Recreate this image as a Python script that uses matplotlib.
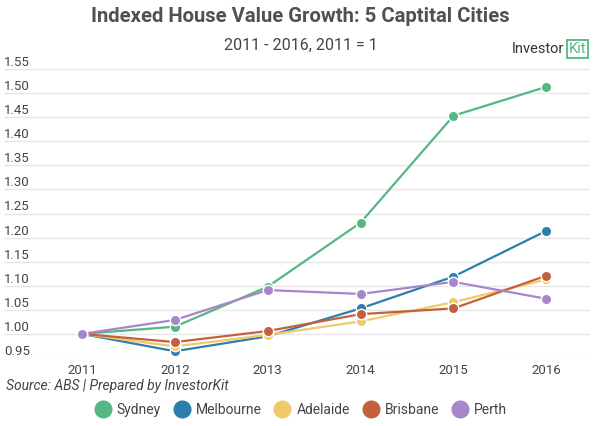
import matplotlib
matplotlib.use("Agg")
import matplotlib.pyplot as plt
from matplotlib.lines import Line2D
from matplotlib.transforms import blended_transform_factory

years = ["2011", "2012", "2013", "2014", "2015", "2016"]
sydney = [1.000, 1.015, 1.098, 1.231, 1.453, 1.513]
melbourne = [1.000, 0.964, 0.995, 1.053, 1.119, 1.214]
adelaide = [1.000, 0.974, 0.998, 1.026, 1.066, 1.113]
brisbane = [1.000, 0.983, 1.006, 1.041, 1.053, 1.121]
perth = [1.000, 1.029, 1.091, 1.083, 1.108, 1.073]

city_names = ["Sydney", "Melbourne", "Adelaide", "Brisbane", "Perth"]
city_colors = ["#55b783", "#2b7fad", "#f0ca6a", "#c2613d", "#a786cb"]
y_ticks = [0.95, 1.00, 1.05, 1.10, 1.15, 1.20, 1.25, 1.30, 1.35, 1.40, 1.45, 1.50, 1.55]

plt.rcParams["font.family"] = ["Roboto", "DejaVu Sans"]
text_col = "#444444"

fig = plt.figure(figsize=(6.01, 4.26), dpi=100)
ax = fig.add_axes([4 / 601, (426 - 358) / 426, 586 / 601, (358 - 69) / 426])

x = list(range(len(years)))
for vals, name, col in zip([sydney, melbourne, adelaide, brisbane, perth], city_names, city_colors):
    ax.plot(x, vals, color=col, lw=1.6, marker="o", ms=7.5,
            mfc=col, mec="white", mew=1.0, label=name, zorder=3)

ax.set_ylim(0.95, 1.55)
ax.set_xlim(-0.84, 5.47)
ax.set_yticks(y_ticks)
ax.set_yticklabels([])
ax.tick_params(axis="y", length=0)
ax.set_xticks(x)
ax.set_xticklabels(years, color=text_col, fontsize=9.5)
ax.tick_params(axis="x", length=0, pad=4)
ax.grid(axis="y", color="#e6e6e6", lw=1)
for s in ax.spines.values():
    s.set_visible(False)

# y labels sit above the gridlines, inside the plot
trans = blended_transform_factory(ax.transAxes, ax.transData)
for t in y_ticks:
    ax.text(0.0, t, f"{t:.2f}", transform=trans, ha="left", va="bottom",
            fontsize=9.5, color=text_col)

fig.text(0.5, 1 - 17 / 426, "Indexed House Value Growth: 5 Captital Cities",
         ha="center", va="center", fontsize=14.6, fontweight="bold", color="#505050")
fig.text(0.5, 1 - 45 / 426, "2011 - 2016, 2011 = 1",
         ha="center", va="center", fontsize=11.5, color=text_col)

# logo
fig.text(564 / 601, 1 - 49 / 426, "Investor", ha="right", va="center",
         fontsize=10.5, color="#333333")
fig.text(569 / 601, 1 - 49 / 426, "Kit", ha="left", va="center", fontsize=10.5,
         color="#55b783",
         bbox=dict(boxstyle="square,pad=0.12", fc="none", ec="#55b783", lw=1.3))

fig.text(6 / 601, 1 - 386 / 426, "Source: ABS | Prepared by InvestorKit",
         ha="left", va="center", fontsize=10, style="italic", color=text_col)

handles = [Line2D([], [], ls="none", marker="o", ms=12, mfc=c, mec=c)
           for c in city_colors]
fig.legend(handles, city_names, loc="center", bbox_to_anchor=(0.5, 1 - 410 / 426),
           ncol=5, frameon=False, fontsize=10, labelcolor=text_col,
           handletextpad=0.4, columnspacing=0.9, handlelength=1.2)

fig.savefig("out.png", dpi=100)
